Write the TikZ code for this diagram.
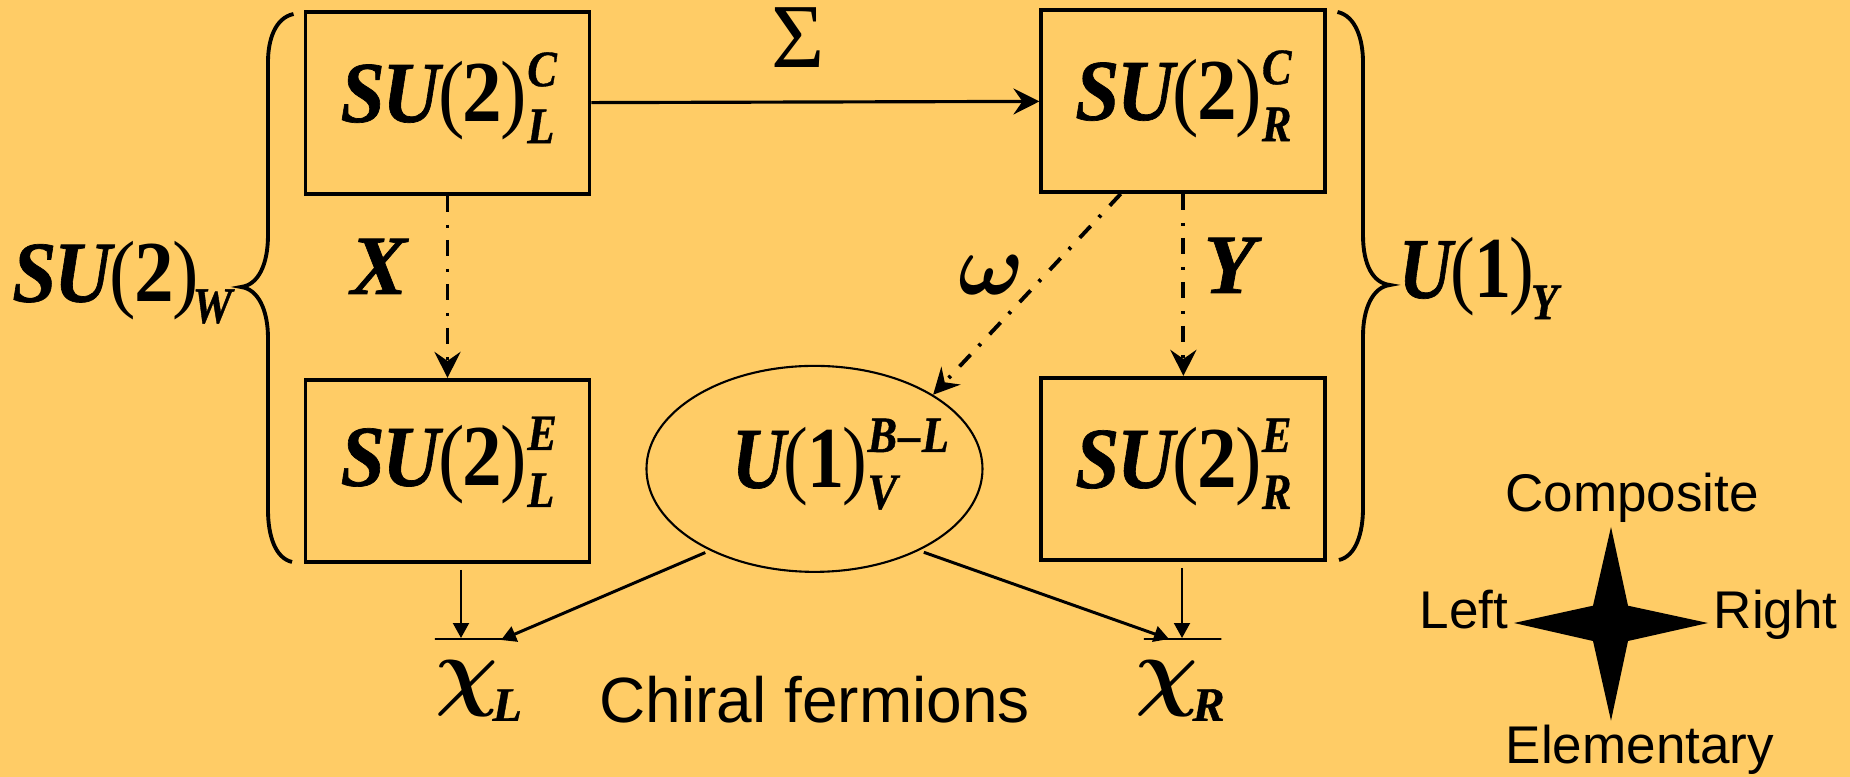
\documentclass[tikz,border=0pt]{standalone}
\usepackage{fontspec}
\usepackage{bm}
\setmainfont{Liberation Sans}
\newfontfamily\serfont[BoldItalicFeatures={FakeBold=0.8}]{Liberation Serif}
\usetikzlibrary{arrows.meta,positioning,shapes.geometric}
\definecolor{pagebg}{HTML}{FFCC66}
\newcommand{\gmain}{\fontsize{24}{24}\selectfont\serfont}
\newcommand{\gscr}{\fontsize{13.7}{14}\selectfont\serfont\bfseries\itshape}
\newcommand{\bfit}[1]{{\bfseries\itshape #1}}
\newcommand{\sugroup}{\scalebox{.94}[1.03]{\gmain\bfit{S\kern-.03em U}\kern-.02em(\kern-.02em{\bfseries 2}\kern-.02em)}}
\newcommand{\uonegroup}{\scalebox{.88}[1.03]{\gmain\bfit{U}\kern-.02em(\kern-.02em{\bfseries 1}\kern-.02em)}}
\newcommand{\upsc}[1]{\rlap{\raisebox{10.2pt}{\scalebox{.92}[1.06]{\gscr #1}}}}
\newcommand{\dnsc}[1]{\raisebox{-6pt}{\scalebox{.92}[1.06]{\gscr #1}}}

\begin{document}
\begin{tikzpicture}[
    gaugebox/.style={draw, line width=1.1pt, inner sep=0pt, minimum width=2.84cm, minimum height=1.82cm, text height=14pt, text depth=3.2pt},
    link/.style={-{Stealth[length=2.6mm, width=2.6mm, inset=0.9mm]}, line width=0.9pt},
    dotlink/.style={link, line width=1.1pt, dash pattern=on 1.6mm off 1.3mm on 0.3mm off 1.2mm},
    thinlink/.style={-{Stealth[length=1.5mm, width=1.6mm, inset=0pt]}, line width=0.6pt},
    barline/.style={draw, line width=0.7pt, inner sep=0pt, minimum height=0pt},
    brace/.style={line width=1.1pt},
    word/.style={inner sep=0pt, anchor=base west, font=\fontsize{15.1}{15}\selectfont},
    sym/.style={inner sep=0pt, anchor=base west, font=\gmain}
]
\fill[pagebg] (0,0) rectangle (18.5,-7.77);
% gauge groups
\node[gaugebox] (boxcl) at (4.475,-1.03) {\sugroup\upsc{C}\dnsc{L}};
\node[gaugebox, right=4.48cm of boxcl, yshift=0.02cm] (boxcr) {\sugroup\upsc{C}\dnsc{R}};
\node[gaugebox, below=1.82cm of boxcl, text height=13pt, text depth=4.5pt] (boxel) {\sugroup\upsc{E}\dnsc{L}};
\node[gaugebox, below=1.82cm of boxcr] (boxer) {\sugroup\upsc{E}\dnsc{R}};
\node[draw, ellipse, line width=0.6pt, inner sep=0pt, minimum width=3.36cm, minimum height=2.06cm, text height=14pt, text depth=3.2pt, right=0.54cm of boxel, yshift=0.02cm] (bml) {\uonegroup\upsc{B\kern.03em–\kern.03em L}\dnsc{V}};
% chiral fermions
\node[barline, minimum width=0.815cm] (barl) at (4.755,-6.39) {};
\node[barline, minimum width=0.775cm] (barr) at (11.825,-6.39) {};
\coordinate (tipl) at (5.01,-6.40);
\coordinate (tipr) at (11.69,-6.39);
\coordinate (downl) at (4.61,-6.38);
\coordinate (downr) at (11.82,-6.38);
\node[sym] (chil) at (4.35,-6.99) {$\bm{\chi}$\hspace{-1.7pt}\raisebox{-6.2pt}{\gscr L}};
\node[sym] (chir) at (11.35,-6.99) {$\bm{\chi}$\hspace{-1.7pt}\raisebox{-6.2pt}{\gscr R}};
\node[word, font=\fontsize{18.2}{18}\selectfont] (chiral) at (5.99,-7.23) {Chiral fermions};
% connectors
\draw[link] (boxcl) -- (boxcr);
\draw[dotlink] (boxcl) -- (boxel);
\draw[dotlink] (boxcr) -- (boxer);
\draw[dotlink] (boxcr.236) -- (bml.32);
\draw[thinlink, shorten <=0.06cm] (boxel.south -| downl) -- (downl);
\draw[thinlink, shorten <=0.06cm] (boxer.south -| downr) -- (downr);
\draw[thinlink, line width=0.85pt, shorten <=0.05cm] (bml.218.5) -- (tipl);
\draw[thinlink, line width=0.85pt, shorten <=0.05cm] (bml.322.5) -- (tipr);
% labels
\node[sym, font=\fontsize{26}{26}\selectfont\serfont] (sigma) at (7.71,-0.68) {Σ};
\node[sym] (xlabel) at (3.50,-2.94) {\bfit{X}};
\node[sym] (ylabel) at (12.03,-2.93) {\bfit{Y}};
\node[sym] (omega) at (9.58,-2.95) {$\bm{\omega}$};
\node[sym] (suw) at (0.116,-3.017) {\sugroup\kern-1.8pt\dnsc{W}};
\node[sym] (uy) at (13.98,-2.98) {\uonegroup\kern-1pt\dnsc{Y}};
% braces
\draw[brace] (2.935,-0.14) .. controls (2.75,-0.18) and (2.68,-0.40) .. (2.68,-0.62) -- (2.68,-2.35) .. controls (2.68,-2.65) and (2.58,-2.85) .. (2.41,-2.87) .. controls (2.58,-2.89) and (2.68,-3.1) .. (2.68,-3.38) -- (2.68,-5.1) .. controls (2.68,-5.35) and (2.75,-5.58) .. (2.92,-5.62);
\draw[brace] (13.375,-0.12) .. controls (13.56,-0.16) and (13.63,-0.40) .. (13.63,-0.62) -- (13.63,-2.35) .. controls (13.63,-2.65) and (13.73,-2.83) .. (13.90,-2.85) .. controls (13.73,-2.87) and (13.63,-3.08) .. (13.63,-3.36) -- (13.63,-5.08) .. controls (13.63,-5.33) and (13.56,-5.56) .. (13.39,-5.60);
% compass
\fill (16.11,-5.27) -- (16.28,-6.057) -- (17.08,-6.23) -- (16.28,-6.41) -- (16.11,-7.207) -- (15.93,-6.41) -- (15.14,-6.23) -- (15.93,-6.057) -- cycle;
\node[word] (composite) at (15.01,-5.117) {\kern1pt Composite};
\node[word] (left) at (14.19,-6.29) {Left};
\node[word] (right) at (17.13,-6.29) {Right};
\node[word] (elementary) at (15.05,-7.63) {Elementary};
\end{tikzpicture}
\end{document}
